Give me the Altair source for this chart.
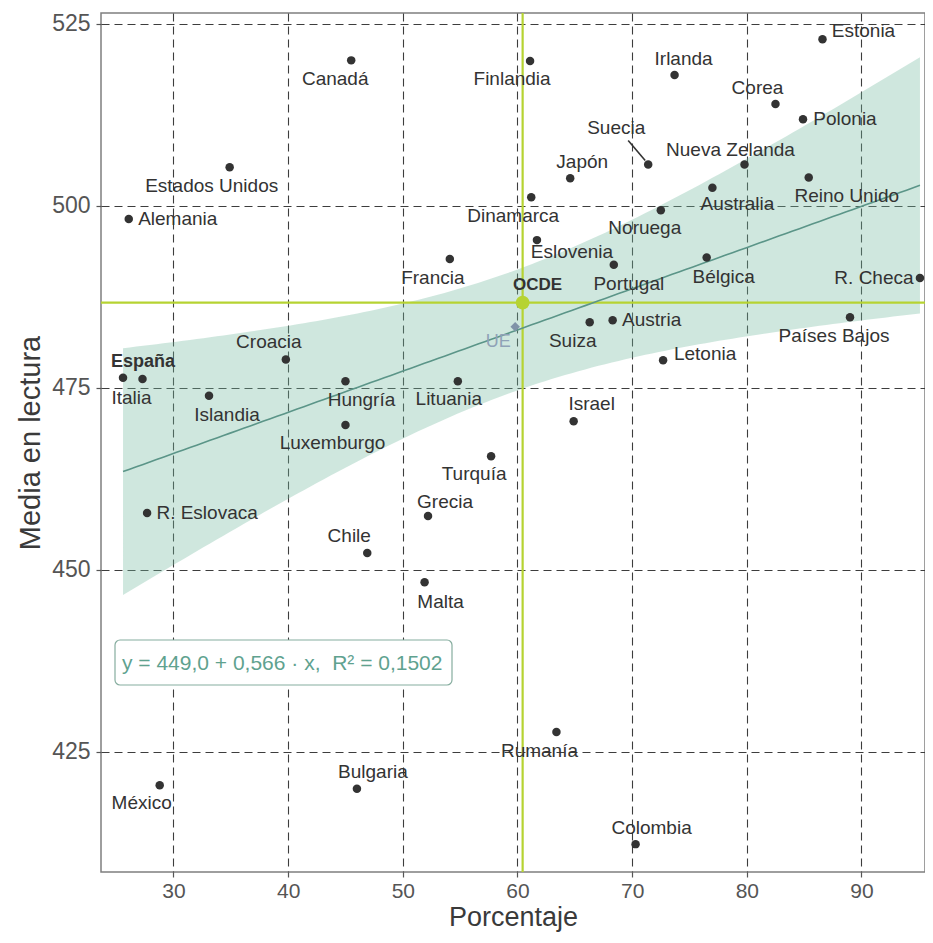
import numpy as np
import pandas as pd
import altair as alt

# ---------------- data ----------------
countries = ["Estonia", "Irlanda", "Corea", "Polonia", "Suecia", "Nueva Zelanda",
             "Reino Unido", "Australia", "Noruega", "Bélgica", "Portugal", "R. Checa",
             "Países Bajos", "Canadá", "Finlandia", "Japón", "Estados Unidos", "Alemania",
             "Dinamarca", "Eslovenia", "Francia", "Suiza", "Austria", "Letonia", "Croacia",
             "España", "Italia", "Islandia", "Hungría", "Lituania", "Luxemburgo", "Israel",
             "Turquía", "R. Eslovaca", "Grecia", "Chile", "Malta", "Rumanía", "México",
             "Bulgaria", "Colombia"]
pct = [86.6, 73.7, 82.5, 84.9, 71.4, 79.8,
       85.4, 77.0, 72.5, 76.5, 68.4, 95.1,
       89.0, 45.5, 61.1, 64.6, 34.9, 26.1,
       61.2, 61.7, 54.1, 66.3, 68.3, 72.7, 39.8,
       25.6, 27.3, 33.1, 45.0, 54.8, 45.0, 64.9,
       57.7, 27.7, 52.2, 46.9, 51.9, 63.4, 28.8,
       46.0, 70.3]
reading = [522.9, 518.0, 514.0, 511.9, 505.7, 505.7,
           503.9, 502.5, 499.4, 492.9, 491.9, 490.1,
           484.7, 520.0, 519.9, 503.8, 505.3, 498.2,
           501.2, 495.3, 492.7, 484.0, 484.3, 478.8, 478.9,
           476.4, 476.2, 473.9, 475.9, 475.9, 469.9, 470.4,
           465.6, 457.8, 457.4, 452.3, 448.3, 427.7, 420.4,
           419.9, 412.3]

ocde_pct, ocde_read = 60.45, 486.7
ue_pct, ue_read = 59.8, 483.4

intercept, slope = 449.0, 0.566
eq_label = "y = 449,0 + 0,566 · x,\u00a0\u00a0R² = 0,1502"
bold_names = ["España"]

# label offsets in pixels (label centre relative to the point)
lab_dx = [41, 9, -18, 42, -32, -14,
          38, 25, -16, 17, 15, -46,
          -16, -16, -18, 12, -18, 49,
          -18, 35, -17, -17, 39, 42, -17,
          20, -11, 18, 16, -9, -13, 18,
          -17, 60, 17, -18, 16, -17, -18,
          16, 16]
lab_dy = [-8, -16, -16, 0, -36, -14,
          18, 16, 18, 19, 19, 0,
          19, 19, 18, -16, 19, 0,
          19, 12, 19, 19, 0, -6, -17,
          -16, 19, 19, 19, 18, 18, -17,
          18, 0, -14, -17, 20, 19, 18,
          -17, -16]

# ---------------- layout ----------------
W, H = 824, 859
XDOM = [23.68, 95.54]
YDOM = [408.47, 526.51]
ppx = W / (XDOM[1] - XDOM[0])
ppy = H / (YDOM[1] - YDOM[0])
FONT = "Liberation Sans"
LAB_FS = 19

df = pd.DataFrame({"pais": countries, "pct": pct, "lect": reading,
                   "dx": lab_dx, "dy": lab_dy})
df["lx"] = df["pct"] + df["dx"] / ppx
df["ly"] = df["lect"] - df["dy"] / ppy
df["bold"] = df["pais"].isin(bold_names)

# regression band (95% CI of mean) around the stated fit
x_arr = np.array(pct)
y_arr = np.array(reading)
n = len(x_arr)
resid = y_arr - (intercept + slope * x_arr)
s = np.sqrt(np.sum(resid ** 2) / (n - 2))
xbar = x_arr.mean()
sxx = np.sum((x_arr - xbar) ** 2)
tq = 2.023
xg = np.linspace(x_arr.min(), x_arr.max(), 120)
fit = intercept + slope * xg
se = s * np.sqrt(1.0 / n + (xg - xbar) ** 2 / sxx)
band = pd.DataFrame({"x": xg, "fit": fit, "lo": fit - tq * se, "hi": fit + tq * se})

xs = alt.Scale(domain=XDOM, nice=False, zero=False)
ys = alt.Scale(domain=YDOM, nice=False, zero=False)

X = lambda f: alt.X(f, type="quantitative", scale=xs,
                    axis=alt.Axis(values=[30, 40, 50, 60, 70, 80, 90], title="Porcentaje"))
Y = lambda f: alt.Y(f, type="quantitative", scale=ys,
                    axis=alt.Axis(values=[425, 450, 475, 500, 525], title="Media en lectura"))

band_layer = alt.Chart(band).mark_area(color="#72b89e", opacity=0.34).encode(
    x=X("x"), y=Y("lo"), y2="hi")

line_layer = alt.Chart(band).mark_line(color="#5b9588", strokeWidth=1.6).encode(
    x=X("x"), y=Y("fit"))

ocde_df = pd.DataFrame({"pct": [ocde_pct], "lect": [ocde_read]})
ocde_v = alt.Chart(ocde_df).mark_rule(color="#b6d332", strokeWidth=2.2).encode(x=X("pct"))
ocde_h = alt.Chart(ocde_df).mark_rule(color="#b6d332", strokeWidth=2.2).encode(y=Y("lect"))
ocde_pt = alt.Chart(ocde_df).mark_circle(color="#b6d332", size=190, opacity=1).encode(
    x=X("pct"), y=Y("lect"))
ocde_lab = alt.Chart(ocde_df).mark_text(font=FONT, fontSize=17, fontWeight="bold",
                                        color="#333333", dx=15, dy=-18).encode(
    x=X("pct"), y=Y("lect"), text=alt.value("OCDE"))

ue_df = pd.DataFrame({"pct": [ue_pct], "lect": [ue_read]})
ue_pt = alt.Chart(ue_df).mark_point(shape="diamond", filled=True, color="#8093a8",
                                    size=90, opacity=1).encode(x=X("pct"), y=Y("lect"))
ue_lab = alt.Chart(ue_df).mark_text(font=FONT, fontSize=18, color="#8fa2b7",
                                    dx=-17, dy=15).encode(
    x=X("pct"), y=Y("lect"), text=alt.value("UE"))

pts = alt.Chart(df).mark_circle(color="#333333", size=72, opacity=1).encode(
    x=X("pct"), y=Y("lect"))

labs = alt.Chart(df[~df["bold"]]).mark_text(font=FONT, fontSize=LAB_FS, color="#333333",
                                            baseline="middle").encode(
    x=X("lx"), y=Y("ly"), text="pais")
labs_b = alt.Chart(df[df["bold"]]).mark_text(font=FONT, fontSize=LAB_FS - 1, fontWeight="bold",
                                             color="#333333", baseline="middle").encode(
    x=X("lx"), y=Y("ly"), text="pais")

# leader segment for Suecia
sw = df[df["pais"] == "Suecia"].iloc[0]
seg = pd.DataFrame({"x1": [sw.pct - 20 / ppx], "y1": [sw.lect + 24 / ppy],
                    "x2": [sw.pct - 3 / ppx], "y2": [sw.lect + 4 / ppy]})
seg_layer = alt.Chart(seg).mark_rule(color="#333333", strokeWidth=1.6).encode(
    x=X("x1"), y=Y("y1"), x2="x2", y2="y2")

one = pd.DataFrame({"a": [0]})
eq_box = alt.Chart(one).mark_rect(cornerRadius=5, fill="white", stroke="#86ad9f",
                                  strokeWidth=1.2).encode(
    x=alt.value(14), x2=alt.value(351), y=alt.value(627), y2=alt.value(672))
eq_txt = alt.Chart(one).mark_text(font=FONT, fontSize=21, color="#5fa28f", align="left",
                                  baseline="middle", text=eq_label).encode(
    x=alt.value(21), y=alt.value(651))

chart = alt.layer(
    band_layer, ocde_v, ocde_h, line_layer, seg_layer, pts, ue_pt, ocde_pt,
    labs, labs_b, ue_lab, ocde_lab, eq_box, eq_txt
).properties(
    width=W, height=H,
    autosize=alt.AutoSizeParams(type="none"),
    padding={"left": 93, "top": 5, "right": 0, "bottom": 63},
    background="white",
).configure_view(
    stroke="#7f7f7f", strokeWidth=1.5
).configure_axis(
    grid=True, gridColor="#3d3d3d", gridDash=[8, 5], gridWidth=1.1,
    domain=False, ticks=True, tickColor="#555555", tickSize=5, tickWidth=1.2,
    labelFont=FONT, labelColor="#555555",
    titleFont=FONT, titleColor="#3a3a3a", titleFontWeight="normal",
).configure_axisX(
    labelPadding=3, labelFontSize=21, titlePadding=3, titleFontSize=27
).configure_axisY(
    labelPadding=6, labelFontSize=23, titlePadding=6, titleFontSize=29
)

chart.save("out.html", embed_options={"renderer": "svg", "actions": False})
